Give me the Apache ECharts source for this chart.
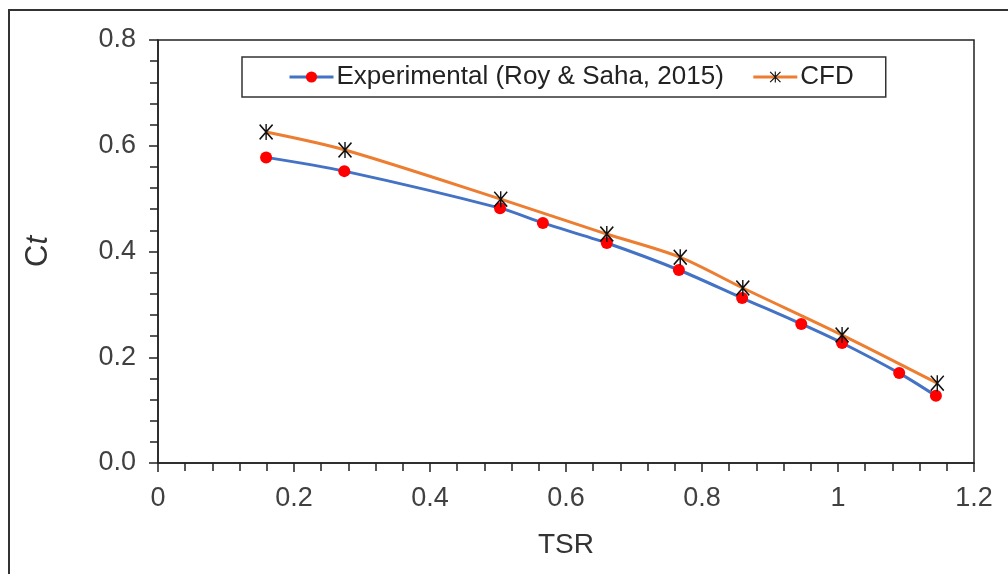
<!DOCTYPE html>
<html>
<head>
<meta charset="utf-8">
<script src="https://cdn.jsdelivr.net/npm/echarts@6/dist/echarts.min.js"></script>
<style>
  html, body { margin: 0; padding: 0; background: #fff; }
  #chart { width: 1008px; height: 574px; }
</style>
</head>
<body>
<div id="chart"></div>
<script>
  // values
  var tsrExp = [0.159, 0.274, 0.503, 0.566, 0.660, 0.766, 0.859, 0.946, 1.006, 1.090, 1.144];
  var ctExp = [0.578, 0.552, 0.482, 0.454, 0.416, 0.365, 0.312, 0.263, 0.227, 0.170, 0.127];
  var tsrCfd = [0.159, 0.275, 0.504, 0.660, 0.768, 0.860, 1.006, 1.146];
  var ctCfd = [0.626, 0.592, 0.499, 0.433, 0.389, 0.331, 0.242, 0.151];
  var seriesNames = ['Experimental (Roy & Saha, 2015)', 'CFD'];

  var font = "'Liberation Sans', Arial, sans-serif";
  // asterisk marker: vertical bar + X
  var starPath = 'path://M9 0H11V20H9Z M0 1.5L1.5 0L20 18.5L18.5 20Z M18.5 0L20 1.5L1.5 20L0 18.5Z';

  function pairs(xs, ys) {
    return xs.map(function (x, i) { return [x, ys[i]]; });
  }

  var chart = echarts.init(document.getElementById('chart'));
  var option = {
    backgroundColor: '#fff',
    animation: false,
    grid: {
      left: 158, right: 34, top: 40, bottom: 111,
      show: true, borderColor: '#222', borderWidth: 1.5, backgroundColor: 'transparent'
    },
    graphic: [{
      type: 'rect',
      shape: { x: 9, y: 10, width: 1200, height: 800 },
      style: { fill: 'none', stroke: '#333', lineWidth: 2 },
      silent: true
    }],
    legend: {
      left: 242, top: 57,
      padding: [7, 32, 7, 46],
      borderColor: '#333', borderWidth: 1.5,
      itemWidth: 44, itemHeight: 14, itemGap: 28,
      lineStyle: { width: 3 },
      textStyle: { fontFamily: font, fontSize: 26, color: '#222', padding: [0, 0, 0, -2] },
      data: seriesNames
    },
    xAxis: {
      type: 'value', min: 0, max: 1.2, interval: 0.2,
      name: 'TSR', nameLocation: 'middle', nameGap: 68,
      nameTextStyle: { fontFamily: font, fontSize: 28, color: '#333' },
      axisLine: { show: true, lineStyle: { color: '#222', width: 1.5 } },
      axisTick: { show: true, inside: false, length: 9, lineStyle: { color: '#222', width: 1.5 } },
      minorTick: { show: true, splitNumber: 5, length: 8, lineStyle: { color: '#222', width: 1.5 } },
      axisLabel: { fontFamily: font, fontSize: 27, color: '#404040', margin: 22 },
      splitLine: { show: false }
    },
    yAxis: {
      type: 'value', min: 0, max: 0.8, interval: 0.2,
      name: '{c|C}{t|t}', nameLocation: 'middle', nameGap: 104, nameRotate: 90,
      nameTextStyle: {
        fontFamily: font, fontSize: 31, color: '#333',
        rich: {
          c: { fontFamily: font, fontSize: 31, color: '#333' },
          t: { fontFamily: font, fontSize: 31, color: '#333', fontStyle: 'italic' }
        }
      },
      axisLine: { show: true, lineStyle: { color: '#222', width: 1.5 } },
      axisTick: { show: true, inside: false, length: 9, lineStyle: { color: '#222', width: 1.5 } },
      minorTick: { show: true, splitNumber: 5, length: 8, lineStyle: { color: '#222', width: 1.5 } },
      axisLabel: {
        fontFamily: font, fontSize: 27, color: '#404040', margin: 22,
        formatter: function (v) { return v.toFixed(1); }
      },
      splitLine: { show: false }
    },
    series: [
      {
        name: seriesNames[0],
        type: 'line',
        smooth: 0.3,
        data: pairs(tsrExp, ctExp),
        symbol: 'circle', symbolSize: 12,
        lineStyle: { color: '#4472C4', width: 3 },
        itemStyle: { color: '#FF0000', borderWidth: 0 }
      },
      {
        name: seriesNames[1],
        type: 'line',
        smooth: 0.3,
        data: pairs(tsrCfd, ctCfd),
        symbol: starPath, symbolSize: [14, 16],
        lineStyle: { color: '#ED7D31', width: 3 },
        itemStyle: { color: '#111', borderWidth: 0 }
      }
    ]
  };
  chart.setOption(option);
</script>
</body>
</html>
